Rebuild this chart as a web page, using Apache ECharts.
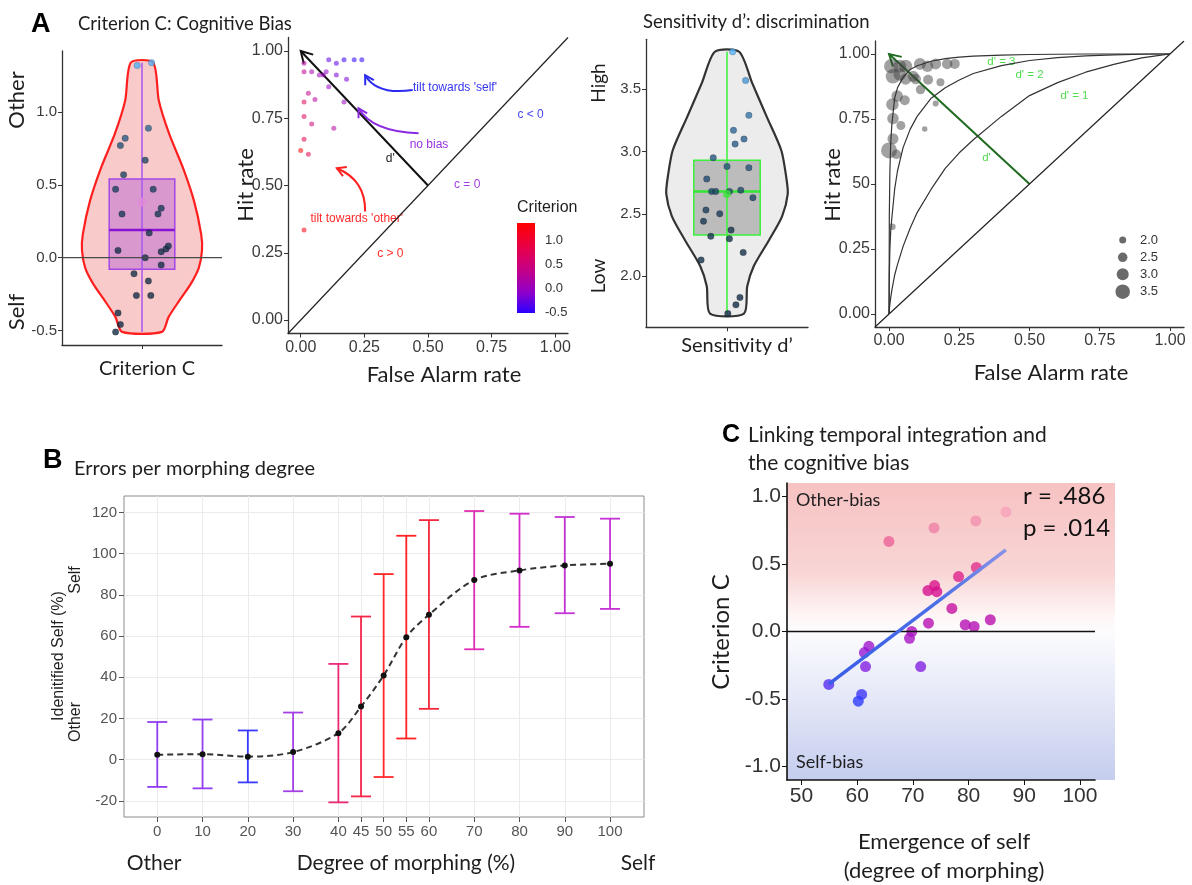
<!DOCTYPE html>
<html>
<head>
<meta charset="utf-8">
<script src="https://cdn.jsdelivr.net/npm/echarts@6.0.0/dist/echarts.min.js"></script>
<style>html,body{margin:0;padding:0;background:#fff;}#chart{width:1192px;height:885px;}</style>
</head>
<body>
<div id="chart"></div>
<script>
// ---------------- Panel A1: Criterion C violin ----------------
const critViolinY  = [1.34, 1.08, 0.85, 0.62, 0.39, 0.16, 0.05, -0.07, -0.18, -0.30, -0.41, -0.51];
const critViolinHW = [0.14, 0.21, 0.34, 0.51, 0.65, 0.74, 0.75, 0.71, 0.61, 0.46, 0.33, 0.25];
const critBoxStats = [-0.51, -0.08, 0.19, 0.54, 1.34]; // min, q1, median, q3, max
const critMean = 0.38;
const critValues = [1.32, 1.34, 0.89, 0.82, 0.77, 0.67, 0.57, 0.47, 0.47, 0.30, 0.34, 0.30, 0.17, 0.05, 0.04, 0.06, 0.08, 0.0, -0.05, -0.11, -0.16, -0.26, -0.26, -0.38, -0.46, -0.51];
const critJitter = [-0.06, 0.12, 0.08, -0.21, -0.27, 0.04, -0.23, -0.33, 0.14, -0.25, 0.24, 0.20, 0.09, -0.30, 0.24, 0.30, 0.33, 0.04, 0.24, -0.10, 0.08, -0.07, 0.11, -0.30, -0.27, -0.33];
const critTicks = [-0.5, 0.0, 0.5, 1.0];
const critTickLabels = ['-0.5', '0.0', '0.5', '1.0'];

// ---------------- Panel A2: criterion ROC ----------------
const rocTicks = [0, 0.25, 0.5, 0.75, 1];
const rocTickLabels = ['0.00', '0.25', '0.50', '0.75', '1.00'];
const rocFA   = [0.013, 0.11, 0.14, 0.17, 0.21, 0.24, 0.013, 0.043, 0.073, 0.089, 0.10, 0.14, 0.11, 0.18, 0.03, 0.013, 0.056, 0.17, 0.013, 0.043, 0.13, 0.013, 0.0, 0.03, 0.013];
const rocHit  = [0.954, 0.967, 0.954, 0.967, 0.967, 0.967, 0.923, 0.923, 0.911, 0.911, 0.923, 0.911, 0.867, 0.895, 0.843, 0.81, 0.82, 0.81, 0.756, 0.729, 0.713, 0.672, 0.63, 0.616, 0.335];
const rocCrit = [0.3, -0.3, -0.3, -0.45, -0.5, -0.55, 0.4, 0.2, 0.1, 0.05, 0.0, -0.15, 0.05, -0.15, 0.45, 0.8, 0.35, 0.05, 0.8, 0.55, 0.3, 0.9, 1.35, 0.85, 1.3];
const critLegendTicks = ['1.0', '0.5', '0.0', '-0.5'];
// arrows: [x0, y0, ctrlX, ctrlY, x1, y1]
const a2MainArrow = [[0.5, 0.5, 0.5, 0.5, 0.0, 1.0]];
const a2CurvedArrows = [
  [0.44, 0.855, 0.30, 0.835, 0.253, 0.91],
  [0.463, 0.694, 0.28, 0.70, 0.227, 0.787],
  [0.253, 0.403, 0.255, 0.52, 0.142, 0.564]
];
const a2ArrowColors = ['#2b2bf0', '#8a2be2', '#ff2020'];
const a2Notes = [
  [0.606, 0.862, "tilt towards 'self'", '#3535f0'],
  [0.504, 0.652, 'no bias', '#9a33e0'],
  [0.22, 0.375, "tilt towards 'other'", '#ff2a2a'],
  [0.903, 0.762, 'c < 0', '#4545f0'],
  [0.654, 0.502, 'c = 0', '#a040e0'],
  [0.352, 0.248, 'c > 0', '#ff2a2a'],
  [0.352, 0.601, "d'", '#222222']
];

// ---------------- Panel A3: Sensitivity violin ----------------
const sensViolinY  = [3.80, 3.55, 3.28, 3.01, 2.80, 2.66, 2.48, 2.29, 2.08, 1.92, 1.70];
const sensViolinHW = [0.15, 0.31, 0.49, 0.67, 0.73, 0.75, 0.68, 0.52, 0.33, 0.25, 0.21];
const sensBoxStats = [1.70, 2.33, 2.68, 2.93, 3.80];
const sensMean = 2.66;
const sensValues = [3.80, 3.57, 3.29, 3.17, 3.10, 3.06, 2.95, 2.88, 2.87, 2.78, 2.68, 2.68, 2.68, 2.69, 2.63, 2.53, 2.50, 2.44, 2.37, 2.32, 2.30, 2.19, 2.13, 1.83, 1.77, 1.70];
const sensJitter = [0.07, 0.23, 0.27, 0.08, 0.21, 0.10, -0.17, 0.0, 0.27, -0.25, -0.19, -0.14, 0.03, 0.17, 0.32, -0.26, -0.09, -0.29, 0.05, -0.20, 0.03, 0.20, -0.32, 0.16, 0.11, 0.01];
const sensTicks = [2.0, 2.5, 3.0, 3.5];
const sensTickLabels = ['2.0', '2.5', '3.0', '3.5'];

// ---------------- Panel A4: d' ROC ----------------
const a4YTickLabels = ['0.00', '0.25', '50', '0.75', '1.00'];
const dFA  = [0.008, 0.014, 0.038, 0.059, 0.11, 0.137, 0.166, 0.207, 0.234, 0.038, 0.059, 0.086, 0.095, 0.139, 0.183, 0.112, 0.029, 0.012, 0.056, 0.166, 0.014, 0.042, 0.127, 0.014, 0.0, 0.026, 0.012];
const dHit = [0.953, 0.914, 0.953, 0.953, 0.962, 0.953, 0.962, 0.962, 0.962, 0.921, 0.904, 0.914, 0.904, 0.901, 0.891, 0.863, 0.838, 0.806, 0.822, 0.81, 0.752, 0.725, 0.712, 0.674, 0.629, 0.614, 0.336];
const dPrime = [3.5, 3.5, 3.2, 3.2, 3.0, 2.9, 2.8, 2.7, 2.6, 3.1, 2.9, 2.8, 2.7, 2.6, 2.2, 2.5, 2.9, 3.1, 2.6, 1.8, 2.9, 2.4, 1.7, 2.8, 3.8, 2.5, 1.9];
const isoFA = [0, 0.001, 0.003, 0.006, 0.01, 0.02, 0.03, 0.05, 0.075, 0.1, 0.15, 0.2, 0.25, 0.3, 0.4, 0.5, 0.6, 0.7, 0.8, 0.9, 0.95, 1];
const isoD1 = [0, 0.016, 0.039, 0.063, 0.092, 0.15, 0.19, 0.26, 0.33, 0.39, 0.48, 0.56, 0.62, 0.67, 0.76, 0.84, 0.89, 0.93, 0.96, 0.985, 0.993, 1];
const isoD2 = [0, 0.15, 0.25, 0.32, 0.37, 0.48, 0.55, 0.64, 0.71, 0.76, 0.83, 0.87, 0.90, 0.925, 0.955, 0.975, 0.986, 0.993, 0.997, 0.999, 1, 1];
const isoD3 = [0, 0.38, 0.55, 0.66, 0.73, 0.83, 0.87, 0.91, 0.94, 0.955, 0.972, 0.982, 0.988, 0.992, 0.996, 0.998, 0.999, 1, 1, 1, 1, 1];
const a4Arrow = [[0.5, 0.5, 0.5, 0.5, 0.0, 1.0]];
const a4Notes = [
  [0.40, 0.968, "d' = 3", '#4fdc4f'],
  [0.50, 0.918, "d' = 2", '#4fdc4f'],
  [0.66, 0.838, "d' = 1", '#4fdc4f'],
  [0.347, 0.60, "d'", '#4fdc4f']
];
const sizeLegend = [2.0, 2.5, 3.0, 3.5];

// ---------------- Panel B: errors per morphing degree ----------------
const morphDeg  = [0, 10, 20, 30, 40, 45, 50, 55, 60, 70, 80, 90, 100];
const morphMean = [2.4, 2.7, 1.5, 3.7, 12.9, 25.8, 40.9, 59.5, 70.4, 87.2, 91.9, 94.3, 95.1];
const morphLo   = [-13.2, -13.9, -11.0, -15.3, -20.7, -17.8, -8.4, 10.3, 24.7, 53.6, 64.5, 71.1, 73.2];
const morphHi   = [18.3, 19.5, 14.2, 22.9, 46.5, 69.5, 90.1, 108.7, 116.3, 120.7, 119.4, 117.8, 117.0];
const bYTicks   = [-20, 0, 20, 40, 60, 80, 100, 120];
const errColors = ['#8f3ef2', '#933ef2', '#3a3aff', '#a43fe6', '#ec2a78', '#f52548', '#ff2828', '#ff2222', '#f5283c', '#e02cb4', '#d22ccc', '#c532d6', '#c532d6'];

// ---------------- Panel C: temporal integration vs bias ----------------
const emergence  = [65.7, 73.8, 81.3, 86.7, 81.4, 78.2, 72.7, 73.9, 74.3, 77.0, 72.8, 79.4, 81.0, 83.9, 69.8, 69.4, 62.1, 61.3, 61.5, 71.4, 54.9, 60.8, 60.2];
const criterionC = [0.667, 0.767, 0.819, 0.886, 0.474, 0.407, 0.303, 0.340, 0.295, 0.171, 0.062, 0.050, 0.037, 0.087, 0.0, -0.05, -0.11, -0.156, -0.26, -0.26, -0.392, -0.466, -0.516];
const regLineX = [54.9, 86.7];
const regLineY = [-0.39, 0.605];
const cXTicks = [50, 60, 70, 80, 90, 100];
const cYTicks = [-1.0, -0.5, 0.0, 0.5, 1.0];
const cYTickLabels = ['-1.0', '-0.5', '0.0', '0.5', '1.0'];

// ================= helpers =================
function merge(a, b) {
  const o = Object.assign({}, a);
  for (const k in b) {
    if (b[k] && typeof b[k] === 'object' && !Array.isArray(b[k]) && a[k] && typeof a[k] === 'object' && !Array.isArray(a[k])) o[k] = merge(a[k], b[k]);
    else o[k] = b[k];
  }
  return o;
}
function fmt(vals, labels) {
  return function (v) {
    for (let i = 0; i < vals.length; i++) if (Math.abs(vals[i] - v) < 1e-6) return labels[i];
    return '';
  };
}
const dSize = d => Math.max(2, 2 + 5 * (d - 1));
const baseAxis = {
  type: 'value',
  axisLine: { show: true, onZero: false, lineStyle: { color: '#333', width: 1.3 } },
  axisTick: { show: true, length: 4, lineStyle: { color: '#333', width: 1 } },
  axisLabel: { show: true, color: '#3a3a3a', fontSize: 15, fontFamily: 'Liberation Sans', margin: 5 },
  splitLine: { show: false }
};

function violinRender(ys, hws, fill, stroke) {
  return function (params, api) {
    if (params.dataIndex !== 0) return null;
    const pts = [];
    for (let i = 0; i < ys.length; i++) pts.push(api.coord([-hws[i], ys[i]]));
    for (let i = ys.length - 1; i >= 0; i--) pts.push(api.coord([hws[i], ys[i]]));
    return { type: 'polygon', shape: { points: pts, smooth: 0.25 }, style: { fill: fill, stroke: stroke, lineWidth: 2.2 } };
  };
}
function boxRender(halfW, fill, stroke, medColor, whColor) {
  return function (params, api) {
    const lo = api.value(0), q1 = api.value(1), med = api.value(2), q3 = api.value(3), hi = api.value(4);
    const pLo = api.coord([0, lo]), pHi = api.coord([0, hi]);
    const tl = api.coord([-halfW, q3]), br = api.coord([halfW, q1]);
    const mL = api.coord([-halfW, med]), mR = api.coord([halfW, med]);
    return { type: 'group', children: [
      { type: 'rect', shape: { x: tl[0], y: tl[1], width: br[0] - tl[0], height: br[1] - tl[1] }, style: { fill: fill, stroke: stroke, lineWidth: 1.5 } },
      { type: 'line', shape: { x1: pLo[0], y1: pLo[1], x2: pHi[0], y2: pHi[1] }, style: { stroke: whColor, lineWidth: 1.5 } },
      { type: 'line', shape: { x1: mL[0], y1: mL[1], x2: mR[0], y2: mR[1] }, style: { stroke: medColor, lineWidth: 2.5 } }
    ] };
  };
}
function arrowRender(colors, width, headLen) {
  return function (params, api) {
    const p0 = api.coord([api.value(0), api.value(1)]);
    const pc = api.coord([api.value(2), api.value(3)]);
    const p1 = api.coord([api.value(4), api.value(5)]);
    let dx = p1[0] - pc[0], dy = p1[1] - pc[1];
    if (Math.abs(dx) + Math.abs(dy) < 1e-6) { dx = p1[0] - p0[0]; dy = p1[1] - p0[1]; }
    const len = Math.hypot(dx, dy);
    const bx = -dx / len, by = -dy / len, a = Math.PI / 6;
    const h1 = [p1[0] + headLen * (bx * Math.cos(a) - by * Math.sin(a)), p1[1] + headLen * (bx * Math.sin(a) + by * Math.cos(a))];
    const h2 = [p1[0] + headLen * (bx * Math.cos(-a) - by * Math.sin(-a)), p1[1] + headLen * (bx * Math.sin(-a) + by * Math.cos(-a))];
    const c = colors[params.dataIndex % colors.length];
    return { type: 'group', children: [
      { type: 'bezierCurve', shape: { x1: p0[0], y1: p0[1], x2: p1[0], y2: p1[1], cpx1: pc[0], cpy1: pc[1] }, style: { stroke: c, lineWidth: width, fill: null } },
      { type: 'polyline', shape: { points: [h1, p1, h2] }, style: { stroke: c, lineWidth: width, fill: null } }
    ] };
  };
}
function textRender(list, font) {
  return function (params, api) {
    const it = list[params.dataIndex];
    const p = api.coord([it[0], it[1]]);
    return { type: 'text', x: p[0], y: p[1], style: { text: it[2], fill: it[3], font: font, align: 'center', verticalAlign: 'middle', textAlign: 'center', textVerticalAlign: 'middle' } };
  };
}
function errRender(params, api) {
  const x = api.value(0), lo = api.value(1), hi = api.value(2);
  const pl = api.coord([x, lo]), ph = api.coord([x, hi]);
  const c = errColors[params.dataIndex]; const w = 10;
  return { type: 'group', children: [
    { type: 'line', shape: { x1: pl[0], y1: pl[1], x2: ph[0], y2: ph[1] }, style: { stroke: c, lineWidth: 1.8 } },
    { type: 'line', shape: { x1: pl[0] - w, y1: pl[1], x2: pl[0] + w, y2: pl[1] }, style: { stroke: c, lineWidth: 1.8 } },
    { type: 'line', shape: { x1: ph[0] - w, y1: ph[1], x2: ph[0] + w, y2: ph[1] }, style: { stroke: c, lineWidth: 1.8 } }
  ] };
}
function gText(text, x, y, font, opt) {
  opt = opt || {};
  const el = { type: 'text', x: x, y: y, silent: true, z: 50,
    style: { text: text, font: font, fill: opt.color || '#1e1e1e', align: opt.align || 'center', verticalAlign: 'middle', textAlign: opt.align || 'center', textVerticalAlign: 'middle' } };
  if (opt.rotate) el.rotation = Math.PI / 2;
  return el;
}

// ================= option =================
const gridCommon = { outerBoundsMode: 'none', containLabel: false };
const grids = [
  merge(gridCommon, { left: 62, top: 51, width: 160, height: 294 }),
  merge(gridCommon, { left: 288, top: 37.5, width: 280, height: 296 }),
  merge(gridCommon, { left: 646, top: 39.3, width: 162, height: 288 }),
  merge(gridCommon, { left: 875, top: 41, width: 309, height: 286 }),
  merge(gridCommon, { left: 124, top: 496, width: 520, height: 321, show: true, borderColor: '#8c8c8c', borderWidth: 1, backgroundColor: '#fff' }),
  merge(gridCommon, { left: 787, top: 483, width: 308, height: 297 })
];

const xAxes = [
  merge(baseAxis, { gridIndex: 0, min: -1, max: 1, axisTick: { customValues: [0] }, axisLabel: { show: false } }),
  merge(baseAxis, { gridIndex: 1, min: -0.05, max: 1.05, axisTick: { customValues: rocTicks }, axisLabel: { customValues: rocTicks, formatter: fmt(rocTicks, rocTickLabels), fontSize: 16, margin: 6 } }),
  merge(baseAxis, { gridIndex: 2, min: -1, max: 1, axisTick: { customValues: [0] }, axisLabel: { show: false } }),
  merge(baseAxis, { gridIndex: 3, min: -0.05, max: 1.05, axisTick: { customValues: rocTicks }, axisLabel: { customValues: rocTicks, formatter: fmt(rocTicks, rocTickLabels), fontSize: 16, margin: 6 } }),
  merge(baseAxis, { gridIndex: 4, min: -7.35, max: 107.5, axisLine: { show: false }, axisTick: { customValues: morphDeg, length: 5, lineStyle: { color: '#555' } }, axisLabel: { customValues: morphDeg, color: '#555', fontSize: 15, margin: 7 }, splitLine: { show: true, lineStyle: { color: '#ebebeb', width: 1 } } }),
  merge(baseAxis, { gridIndex: 5, min: 47.4, max: 102.7, axisLine: { lineStyle: { color: '#111', width: 1.6 } }, axisTick: { customValues: cXTicks, length: 5, lineStyle: { color: '#111' } }, axisLabel: { customValues: cXTicks, fontSize: 21, color: '#333', margin: 6 } })
];
const yAxes = [
  merge(baseAxis, { gridIndex: 0, min: -0.6, max: 1.42, axisTick: { customValues: critTicks }, axisLabel: { customValues: critTicks, formatter: fmt(critTicks, critTickLabels) } }),
  merge(baseAxis, { gridIndex: 1, min: -0.05, max: 1.05, axisTick: { customValues: rocTicks }, axisLabel: { customValues: rocTicks, formatter: fmt(rocTicks, rocTickLabels), fontSize: 16 } }),
  merge(baseAxis, { gridIndex: 2, min: 1.59, max: 3.90, axisTick: { customValues: sensTicks }, axisLabel: { customValues: sensTicks, formatter: fmt(sensTicks, sensTickLabels) } }),
  merge(baseAxis, { gridIndex: 3, min: -0.05, max: 1.05, axisTick: { customValues: rocTicks }, axisLabel: { customValues: rocTicks, formatter: fmt(rocTicks, a4YTickLabels), fontSize: 16 } }),
  merge(baseAxis, { gridIndex: 4, min: -27.8, max: 128.0, axisLine: { show: false }, axisTick: { customValues: bYTicks, length: 5, lineStyle: { color: '#555' } }, axisLabel: { customValues: bYTicks, color: '#555', fontSize: 15, margin: 7 }, splitLine: { show: true, lineStyle: { color: '#ebebeb', width: 1 } } }),
  merge(baseAxis, { gridIndex: 5, min: -1.1, max: 1.1, axisLine: { lineStyle: { color: '#111', width: 1.6 } }, axisTick: { customValues: cYTicks, length: 5, lineStyle: { color: '#111' } }, axisLabel: { customValues: cYTicks, formatter: fmt(cYTicks, cYTickLabels), fontSize: 21, color: '#333', margin: 6 } })
];

const series = [
  // 0 A1 violin
  { type: 'custom', xAxisIndex: 0, yAxisIndex: 0, silent: true, renderItem: violinRender(critViolinY, critViolinHW, '#f9caca', '#ff1f1f'), data: critViolinHW.map((h, i) => [h, critViolinY[i]]) },
  // 1 A1 box
  { type: 'custom', xAxisIndex: 0, yAxisIndex: 0, silent: true, renderItem: boxRender(0.41, 'rgba(175,85,215,0.42)', '#a447e6', '#8a12d2', '#a855f0'), data: [critBoxStats] },
  // 2 A1 zero line
  { type: 'line', xAxisIndex: 0, yAxisIndex: 0, silent: true, showSymbol: false, lineStyle: { color: '#4a4a4a', width: 1.4 }, data: [[-1, 0], [1, 0]] },
  // 3 A1 points
  { type: 'scatter', xAxisIndex: 0, yAxisIndex: 0, silent: true, symbolSize: 6.5, itemStyle: { borderColor: 'rgba(0,0,0,0.35)', borderWidth: 0.6 }, data: critValues.map((v, i) => [critJitter[i], v]) },
  // 4 A1 mean
  { type: 'scatter', xAxisIndex: 0, yAxisIndex: 0, silent: true, symbolSize: 9, itemStyle: { color: '#e08ad8' }, data: [[0, critMean]] },
  // 5 A2 diagonal
  { type: 'line', xAxisIndex: 1, yAxisIndex: 1, silent: true, showSymbol: false, lineStyle: { color: '#222', width: 1.2 }, data: [[-0.05, -0.05], [1.05, 1.05]] },
  // 6 A2 points
  { type: 'scatter', xAxisIndex: 1, yAxisIndex: 1, silent: true, symbolSize: 5, itemStyle: { opacity: 0.55 }, data: rocFA.map((v, i) => [v, rocHit[i], rocCrit[i]]) },
  // 7 A2 main arrow
  { type: 'custom', xAxisIndex: 1, yAxisIndex: 1, silent: true, renderItem: arrowRender(['#111'], 2, 13), data: a2MainArrow },
  // 8 A2 curved arrows
  { type: 'custom', xAxisIndex: 1, yAxisIndex: 1, silent: true, renderItem: arrowRender(a2ArrowColors, 2, 10), data: a2CurvedArrows },
  // 9 A2 notes
  { type: 'custom', xAxisIndex: 1, yAxisIndex: 1, silent: true, renderItem: textRender(a2Notes, '12px "Liberation Sans"'), data: a2Notes.map(n => [n[0], n[1]]) },
  // 10 A3 violin
  { type: 'custom', xAxisIndex: 2, yAxisIndex: 2, silent: true, renderItem: violinRender(sensViolinY, sensViolinHW, '#ececec', '#333333'), data: sensViolinHW.map((h, i) => [h, sensViolinY[i]]) },
  // 11 A3 box
  { type: 'custom', xAxisIndex: 2, yAxisIndex: 2, silent: true, renderItem: boxRender(0.41, 'rgba(140,140,140,0.5)', '#3cf03c', '#33e633', '#3cf03c'), data: [sensBoxStats] },
  // 12 A3 points
  { type: 'scatter', xAxisIndex: 2, yAxisIndex: 2, silent: true, symbolSize: 6.5, itemStyle: { borderColor: 'rgba(0,0,0,0.35)', borderWidth: 0.6 }, data: sensValues.map((v, i) => [sensJitter[i], v]) },
  // 13 A3 mean
  { type: 'scatter', xAxisIndex: 2, yAxisIndex: 2, silent: true, symbolSize: 8, itemStyle: { color: '#3ee03e' }, data: [[0, sensMean]] },
  // 14 A4 diagonal
  { type: 'line', xAxisIndex: 3, yAxisIndex: 3, silent: true, showSymbol: false, lineStyle: { color: '#222', width: 1.2 }, data: [[-0.05, -0.05], [1.05, 1.05]] },
  // 15-17 A4 iso-sensitivity curves
  { type: 'line', xAxisIndex: 3, yAxisIndex: 3, silent: true, showSymbol: false, smooth: false, lineStyle: { color: '#333', width: 1.2 }, data: isoFA.map((f, i) => [f, isoD1[i]]) },
  { type: 'line', xAxisIndex: 3, yAxisIndex: 3, silent: true, showSymbol: false, smooth: false, lineStyle: { color: '#333', width: 1.2 }, data: isoFA.map((f, i) => [f, isoD2[i]]) },
  { type: 'line', xAxisIndex: 3, yAxisIndex: 3, silent: true, showSymbol: false, smooth: false, lineStyle: { color: '#333', width: 1.2 }, data: isoFA.map((f, i) => [f, isoD3[i]]) },
  // 18 A4 points sized by d'
  { type: 'scatter', xAxisIndex: 3, yAxisIndex: 3, silent: true, symbolSize: v => dSize(v[2]), itemStyle: { color: 'rgba(65,65,65,0.62)' }, data: dFA.map((v, i) => [v, dHit[i], dPrime[i]]) },
  // 19 A4 green arrow
  { type: 'custom', xAxisIndex: 3, yAxisIndex: 3, silent: true, renderItem: arrowRender(['#1f6b1f'], 2, 13), data: a4Arrow },
  // 20 A4 notes
  { type: 'custom', xAxisIndex: 3, yAxisIndex: 3, silent: true, renderItem: textRender(a4Notes, '11.5px "Liberation Sans"'), data: a4Notes.map(n => [n[0], n[1]]) },
  // 21 B error bars
  { type: 'custom', xAxisIndex: 4, yAxisIndex: 4, silent: true, renderItem: errRender, data: morphDeg.map((d, i) => [d, morphLo[i], morphHi[i]]) },
  // 22 B mean dashed curve
  { type: 'line', xAxisIndex: 4, yAxisIndex: 4, silent: true, smooth: 0.3, symbol: 'circle', symbolSize: 6, itemStyle: { color: '#111' }, lineStyle: { color: '#333', width: 2, type: [6, 4] }, data: morphDeg.map((d, i) => [d, morphMean[i]]) },
  // 23 C zero line
  { type: 'line', xAxisIndex: 5, yAxisIndex: 5, silent: true, showSymbol: false, lineStyle: { color: '#111', width: 1.5 }, data: [[47.4, 0], [102.7, 0]] },
  // 24 C points
  { type: 'scatter', xAxisIndex: 5, yAxisIndex: 5, silent: true, symbolSize: 11, data: emergence.map((e, i) => [e, criterionC[i]]) },
  // 25 C regression line
  { type: 'line', xAxisIndex: 5, yAxisIndex: 5, silent: true, showSymbol: false,
    lineStyle: { width: 3.5, color: { type: 'linear', x: 0, y: 0, x2: 1, y2: 0, colorStops: [{ offset: 0, color: '#3a5ce8' }, { offset: 0.6, color: '#4a6ee6' }, { offset: 1, color: '#8a93e6' }] } },
    data: regLineX.map((x, i) => [x, regLineY[i]]) }
];

const visualMaps = [
  { show: false, type: 'continuous', seriesIndex: 3, dimension: 1, min: -0.51, max: 1.34, inRange: { color: ['#132B43', '#16314c', '#21496b', '#56B1F7'] } },
  { show: false, type: 'continuous', seriesIndex: 6, dimension: 2, min: -0.52, max: 1.35, inRange: { color: ['#2a00ff', '#8c00cc', '#c0008e', '#e4004e', '#ff0000'] } },
  { show: false, type: 'continuous', seriesIndex: 12, dimension: 1, min: 1.70, max: 3.80, inRange: { color: ['#132B43', '#17344f', '#2a5f8c', '#56B1F7'] } },
  { show: false, type: 'continuous', seriesIndex: 24, dimension: 1, min: -0.52, max: 0.89, inRange: { color: ['#2f3cff', '#8a1ee0', '#b410b4', '#d8108a', '#e85090', '#f5a3ba'] } }
];

// ---- static texts & decorations (pixel layout) ----
const F = 'Lato';
const graphics = [
  // panel C background
  { type: 'rect', z: -10, silent: true, shape: { x: 787, y: 483, width: 328, height: 297 },
    style: { fill: { type: 'linear', x: 0, y: 0, x2: 0, y2: 1, colorStops: [
      { offset: 0, color: '#f7c2c2' }, { offset: 0.3, color: '#f9d5d5' }, { offset: 0.45, color: '#fef6f6' },
      { offset: 0.5, color: '#fcfcfe' }, { offset: 0.72, color: '#e5e8f7' }, { offset: 1, color: '#c5cdee' } ] } } },
  gText('A', 31, 25, 'bold 27px "Liberation Sans"', { align: 'left', color: '#000' }),
  gText('Criterion C: Cognitive Bias', 78, 24, '18.5px ' + F, { align: 'left' }),
  gText('Sensitivity d\u2019: discrimination', 643, 22, '18.5px ' + F, { align: 'left' }),
  gText('B', 43, 461, 'bold 27px "Liberation Sans"', { align: 'left', color: '#000' }),
  gText('Errors per morphing degree', 74, 469, '20px ' + F, { align: 'left' }),
  gText('C', 722, 435, 'bold 25px "Liberation Sans"', { align: 'left', color: '#000' }),
  gText('Linking temporal integration and', 748, 435, '21px ' + F, { align: 'left' }),
  gText('the cognitive bias', 748, 463, '21px ' + F, { align: 'left' }),
  // A1
  gText('Other', 17, 100, '22px ' + F, { rotate: true }),
  gText('Self', 17, 312, '22px ' + F, { rotate: true }),
  gText('Criterion C', 147, 369, '20px ' + F),
  // A2
  gText('Hit rate', 246, 185, '22px ' + F, { rotate: true }),
  gText('False Alarm rate', 444, 375, '22px ' + F),
  gText('Criterion', 517, 208, '16px "Liberation Sans"', { align: 'left' }),
  { type: 'rect', silent: true, z: 40, shape: { x: 517, y: 223, width: 18, height: 90 },
    style: { fill: { type: 'linear', x: 0, y: 0, x2: 0, y2: 1, colorStops: [
      { offset: 0, color: '#ff0000' }, { offset: 0.3, color: '#e4004e' }, { offset: 0.55, color: '#c0008e' }, { offset: 0.78, color: '#8c00cc' }, { offset: 1, color: '#2a00ff' } ] } } },
  gText(critLegendTicks[0], 545, 240, '13px "Liberation Sans"', { align: 'left', color: '#333' }),
  gText(critLegendTicks[1], 545, 264, '13px "Liberation Sans"', { align: 'left', color: '#333' }),
  gText(critLegendTicks[2], 545, 288, '13px "Liberation Sans"', { align: 'left', color: '#333' }),
  gText(critLegendTicks[3], 545, 312, '13px "Liberation Sans"', { align: 'left', color: '#333' }),
  // A3
  gText('High', 599, 83, '19px ' + F, { rotate: true }),
  gText('Low', 599, 276, '19px ' + F, { rotate: true }),
  gText('Sensitivity d\u2019', 737, 346, '20px ' + F),
  // A4
  gText('Hit rate', 833, 185, '22px ' + F, { rotate: true }),
  gText('False Alarm rate', 1051, 373, '22px ' + F),
  // B
  gText('Idenitified Self (%)', 59, 656, '16px "Liberation Sans"', { rotate: true }),
  gText('Self', 76, 580, '16px "Liberation Sans"', { rotate: true }),
  gText('Other', 76, 722, '16px "Liberation Sans"', { rotate: true }),
  gText('Other', 154, 863, '21px ' + F),
  gText('Degree of morphing (%)', 406, 863, '21px ' + F),
  gText('Self', 638, 863, '21px ' + F),
  // C
  gText('Criterion C', 721, 632, '24px ' + F, { rotate: true }),
  gText('Emergence of self', 944, 842, '22px ' + F),
  gText('(degree of morphing)', 944, 871, '22px ' + F),
  gText('Other-bias', 796, 500, '18px ' + F, { align: 'left' }),
  gText('Self-bias', 796, 762, '18px ' + F, { align: 'left' }),
  gText('r = .486', 1023, 496, '24px ' + F, { align: 'left', color: '#111' }),
  gText('p = .014', 1023, 528, '24px ' + F, { align: 'left', color: '#111' })
];
// A4 size legend
const legendY = [240, 257.3, 274.3, 291.7];
sizeLegend.forEach((d, i) => {
  graphics.push({ type: 'circle', silent: true, z: 40, shape: { cx: 1122.7, cy: legendY[i], r: dSize(d) / 2 }, style: { fill: 'rgba(80,80,80,0.85)' } });
  graphics.push(gText(d.toFixed(1), 1140, legendY[i], '13px "Liberation Sans"', { align: 'left', color: '#333' }));
});

const chart = echarts.init(document.getElementById('chart'), null, { renderer: 'canvas' });
chart.setOption({
  animation: false,
  backgroundColor: '#ffffff',
  textStyle: { fontFamily: 'Liberation Sans' },
  grid: grids,
  xAxis: xAxes,
  yAxis: yAxes,
  visualMap: visualMaps,
  series: series,
  graphic: { elements: graphics }
});
</script>
</body>
</html>
